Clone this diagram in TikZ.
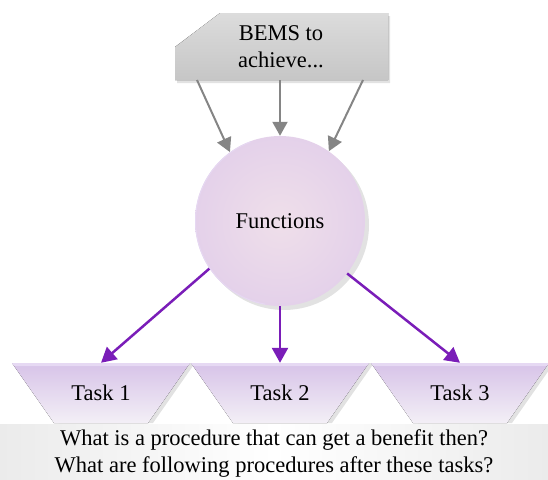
\documentclass[tikz,border=0pt]{standalone}
\usepackage{fontspec}
\setmainfont{Liberation Serif}
\usetikzlibrary{arrows.meta}

\definecolor{boxtop}{HTML}{DCDCDC}
\definecolor{boxbot}{HTML}{C6C6C6}
\definecolor{shadowgray}{HTML}{E2E2E2}
\definecolor{graylink}{HTML}{858585}
\definecolor{purplelink}{HTML}{7A1DB8}
\definecolor{fnin}{HTML}{EFDFEA}
\definecolor{fnout}{HTML}{D9C3EA}
\definecolor{fnrim}{HTML}{E6D8F2}
\definecolor{tasktop}{HTML}{D7C3E8}
\definecolor{taskbot}{HTML}{F3EFF6}
\definecolor{taskband}{HTML}{E6D9F3}
\definecolor{bandedge}{HTML}{EBEBEB}

\pgfdeclareradialshading{fnshade}{\pgfpoint{0bp}{0bp}}{%
  color(0bp)=(fnin); color(20bp)=(fnin!60!fnout); color(50bp)=(fnout)}

\begin{document}
\begin{tikzpicture}[x=1pt,y=-1pt,
    every node/.style={font=\fontsize{22.5}{27}\selectfont, inner sep=0pt},
    graylink/.style={draw=graylink, line width=2pt,
      -{Triangle[length=14pt,width=15pt]}},
    purplelink/.style={draw=purplelink, line width=2.5pt,
      -{Triangle[length=15pt,width=16pt]}},
    taskshape/.style={top color=tasktop, bottom color=taskbot, draw=none},
    tasktext/.style={minimum width=94pt, minimum height=60pt}]
\useasboundingbox (0,0) rectangle (548,479);

% light band behind the questions
\fill[left color=bandedge, right color=bandedge, middle color=white]
  (0,424) rectangle (548,479);

% gray source box with a cut corner
\fill[shadowgray] (177,50) -- (222,16) -- (390,16) -- (390,83) -- (177,83) -- cycle;
\fill[top color=boxtop, bottom color=boxbot]
  (175,47) -- (220,13) -- (388,13) -- (388,80) -- (175,80) -- cycle;
\node[align=center, minimum width=213pt, minimum height=67pt] (bems) at (281,46.5)
  {BEMS to\\achieve...};
\coordinate (b1) at (197,80);
\coordinate (b2) at (280,80);
\coordinate (b3) at (363,80);

% central circle
\fill[shadowgray] (284,225) circle (85);
\shade[shading=fnshade] (280,221) circle (85);
\draw[fnrim, line width=1pt] (280,221) ++(100:84.5) arc (100:250:84.5);
\node[circle, minimum size=170pt] (fn) at (280,221) {Functions};

% task trapezoids
\foreach \cx/\name/\lbl in {101/task1/Task 1, 280/task2/Task 2, 460/task3/Task 3}{
  \fill[shadowgray] (\cx-89+5,363) -- (\cx+89+5,363) -- (\cx+47+5,423) -- (\cx-47+5,423) -- cycle;
  \fill[taskshape] (\cx-89,363) -- (\cx+89,363) -- (\cx+47,423) -- (\cx-47,423) -- cycle;
  \fill[taskband] (\cx-89,363) -- (\cx+89,363) -- (\cx+87,366) -- (\cx-87,366) -- cycle;
  \node[tasktext] (\name) at (\cx,393) {\lbl};
}

% connectors
\draw[graylink] (b1) -- (fn.126);
\draw[graylink] (b2) -- (fn.90);
\draw[graylink] (b3) -- (fn.55);
\draw[purplelink] (fn.214) -- (task1.north);
\draw[purplelink] (fn.270) -- (task2.north);
\draw[purplelink] (fn.322) -- (task3.north);

% questions
\node[align=center] (questions) at (274,453)
  {What is a procedure that can get a benefit then?\\What are following procedures after these tasks?};
\end{tikzpicture}
\end{document}
